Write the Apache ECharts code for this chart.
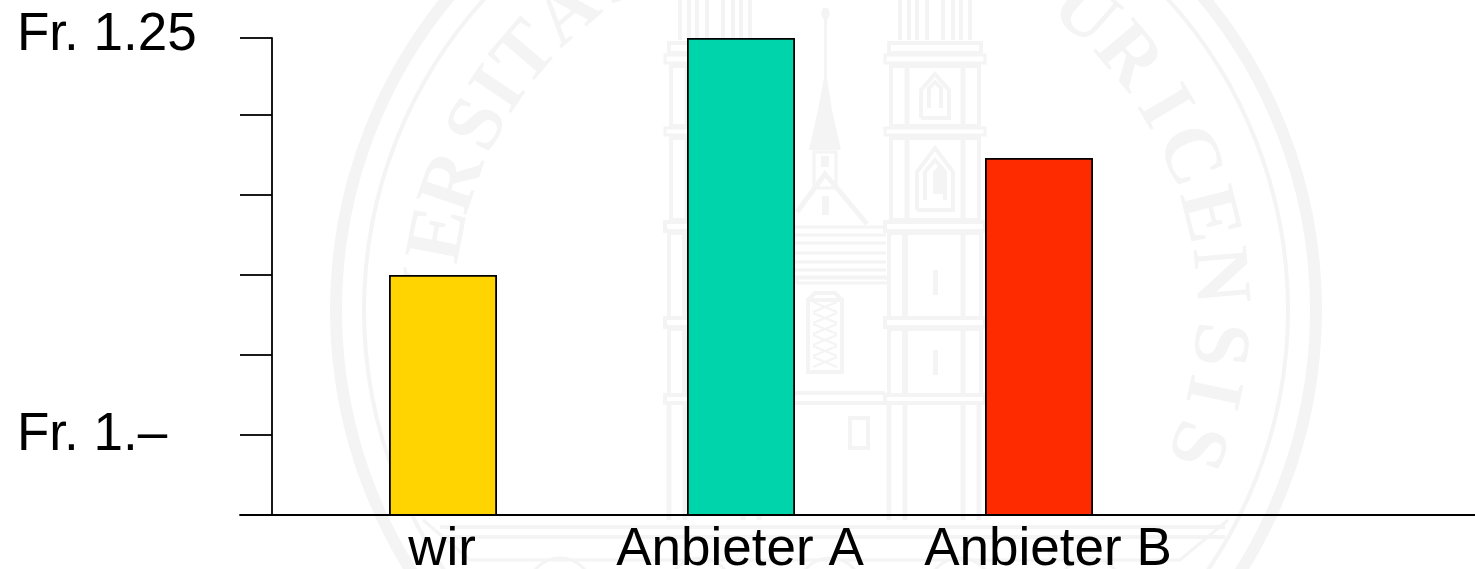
<!DOCTYPE html>
<html><head><meta charset="utf-8">
<style>html,body{margin:0;padding:0;background:#fff}#c{width:1475px;height:569px}</style>
<script src="https://cdn.jsdelivr.net/npm/echarts@6/dist/echarts.min.js"></script>
</head><body><div id="c"></div>
<script>
const categories = ["wir", "Anbieter A", "Anbieter B"];
const categoryPositions = [1, 2, 3];
const values = [1.10, 1.248, 1.173];
const barColors = ["#FFD400", "#00D4AA", "#FF2B00"];
const yTickValues = [0.95, 1, 1.05, 1.1, 1.15, 1.2, 1.248];
const yTickLabels = ["", "Fr. 1.–", "", "", "", "", "Fr. 1.25"];
const sealLetters = ["V","E","R","S","I","T","A","S","T","U","R","I","C","E","N","S","I","S"];
const sealAngles = [-88,-79,-71,-62,-56,-49.5,-41,-32,-20,41,50,59,67,76,85,95,102,110];

const W = "#f4f4f4";
const CX = 826, CY = 310;
const gfx = [];
function line(pts, w) { gfx.push({type:'polyline', silent:true, z:-5, shape:{points:pts}, style:{stroke:W, lineWidth:w||3, fill:null}}); }
function box(x,y,w,h,lw) { gfx.push({type:'rect', silent:true, z:-5, shape:{x,y,width:w,height:h}, style:{stroke:W, lineWidth:lw||3, fill:null}}); }
function solid(pts) { gfx.push({type:'polygon', silent:true, z:-5, shape:{points:pts}, style:{fill:W}}); }
function ring(r,w){ gfx.push({type:'circle', silent:true, z:-5, shape:{cx:CX,cy:CY,r}, style:{stroke:W, lineWidth:w, fill:null}}); }
ring(490,12); ring(462,4);
sealLetters.forEach((ch,i)=>{
  const a = sealAngles[i]*Math.PI/180;
  gfx.push({type:'text', silent:true, z:-5, x:CX+392*Math.sin(a), y:CY-392*Math.cos(a), rotation:-a,
    style:{text:ch, font:'bold 80px "Liberation Serif"', fill:W, align:'center', verticalAlign:'middle'}});
});
function tower(c, win){
  [[-35],[-26],[-18],[-8],[8],[18],[26],[35]].forEach(d=>line([[c+d[0],0],[c+d[0],40]],4));
  box(c-46,43,92,10,4); box(c-50,55,100,8,3);
  box(c-44,66,88,60,4); line([[c-28,66],[c-28,126]],5); line([[c+28,66],[c+28,126]],5);
  box(c-50,128,100,7,3);
  box(c-44,138,88,82,4); line([[c-28,138],[c-28,220]],5); line([[c+28,138],[c+28,220]],5);
  box(c-50,222,100,9,4);
  box(c-46,233,92,85,4); line([[c-30,233],[c-30,318]],6); line([[c+28,233],[c+28,318]],5);
  box(c-50,318,100,9,4);
  box(c-46,329,92,66,4); line([[c-30,329],[c-30,393]],6); line([[c+28,329],[c+28,393]],5);
  box(c-50,395,100,8,4);
  [[c-46],[c-30],[c+28],[c+44]].forEach(d=>line([[d[0],403],[d[0],520]],5));
  if(win){
    line([[c-14,118],[c-14,90],[c,74],[c+14,90],[c+14,118],[c-14,118]],4);
    line([[c-6,108],[c-6,88],[c,82],[c+6,88],[c+6,108]],4);
    line([[c-18,210],[c-18,172],[c,148],[c+18,172],[c+18,210],[c-18,210]],4);
    line([[c-10,200],[c-10,172],[c,160],[c+10,172],[c+10,200]],4);
    solid([[c-2,194],[c+9,194],[c+9,172],[c+3,166],[c-2,172]]);
    solid([[c-2,350],[c+3,350],[c+3,375],[c-2,375]]);
    solid([[c-2,270],[c+3,270],[c+3,295],[c-2,295]]);
  }
}
tower(715,true); tower(935,true);
solid([[823,8],[828,8],[830,14],[827,20],[827,78],[832,110],[841,150],[809,150],[818,110],[824,78],[824,20],[821,14]]);
box(814,152,22,36,3); solid([[821,156],[829,156],[829,167],[821,167]]); solid([[822,196],[829,196],[829,215],[822,215]]);
line([[797,212],[825,174],[867,224]],5);
[227,235,243,253,262,270,277].forEach(y=>line([[795,y],[886,y]],3));
box(797,278,92,5,3);
box(808,300,34,72,4);
line([[808,300],[815,293],[835,293],[842,300]],4);
for(let k=0;k<6;k++){ line([[813,302+k*11],[837,312+k*11]],2); line([[837,302+k*11],[813,312+k*11]],2); }
line([[795,393],[885,393]],4); line([[795,403],[885,403]],4);
box(850,418,18,30,4);
[527,537].forEach(y=>line([[440,y],[1225,y]],4));
line([[423,520],[470,560],[1180,560],[1228,520]],3);
[560,700,830,960,1090].forEach(x=>gfx.push({type:'arc',silent:true,z:-5,shape:{cx:x,cy:590,r:32,startAngle:Math.PI,endAngle:2*Math.PI},style:{stroke:W,lineWidth:3,fill:null}}));

const AX = 240, AW = 1235, BAND = 298, FIRST = 443;
const xMin = 1 - (FIRST-AX)/BAND, xMax = xMin + AW/BAND;
const chart = echarts.init(document.getElementById('c'), null, {renderer:'canvas'});
const font = '"Liberation Sans"';
const FS = 53;
const LW = 1.8;
chart.setOption({
  animation:false, backgroundColor:'#fff',
  grid:{left:AX, right:0, top:38, bottom:54, containLabel:false, outerBoundsMode:'none'},
  graphic:{elements:gfx},
  xAxis:{type:'value', min:xMin, max:xMax, splitLine:{show:false},
    axisLine:{show:true,onZero:false,lineStyle:{color:'#000',width:LW}}, axisTick:{show:false},
    axisLabel:{show:true, customValues:categoryPositions, margin:9, color:'#000', fontSize:FS, fontFamily:font, hideOverlap:false,
      showMinLabel:true, showMaxLabel:true,
      formatter:v=>{const i=categoryPositions.indexOf(v); if(i<0) return ''; return i===2?`{b|${categories[i]}}`:`{a|${categories[i]}}`;},
      rich:{a:{fontSize:FS,fontFamily:font,color:'#000',padding:[0,2,0,0]},b:{fontSize:FS,fontFamily:font,color:'#000',padding:[0,0,0,18]}}}},
  yAxis:{type:'value', min:0.95, max:1.248, offset:-32, splitLine:{show:false},
    axisLine:{show:true,onZero:false,lineStyle:{color:'#000',width:LW}},
    axisTick:{show:true,length:32,customValues:yTickValues,lineStyle:{color:'#000',width:LW}},
    axisLabel:{show:true,customValues:yTickValues,margin:255,align:'left',color:'#000',fontSize:FS,fontFamily:font,
      showMinLabel:true,showMaxLabel:true,
      formatter:v=>{const i=yTickValues.indexOf(v); return i===6?`{t|${yTickLabels[i]}}`:(i>=0?`{m|${yTickLabels[i]}}`:'');},
      rich:{t:{fontSize:FS,fontFamily:font,color:'#000',padding:[0,0,6,0]},m:{fontSize:FS,fontFamily:font,color:'#000',padding:[0,0,0,0]}}}},
  series:[{type:'bar', barWidth:108, z:3,
    data:values.map((v,i)=>({value:[categoryPositions[i],v],itemStyle:{color:barColors[i],borderColor:'#000',borderWidth:LW}}))}]
});
</script></body></html>
